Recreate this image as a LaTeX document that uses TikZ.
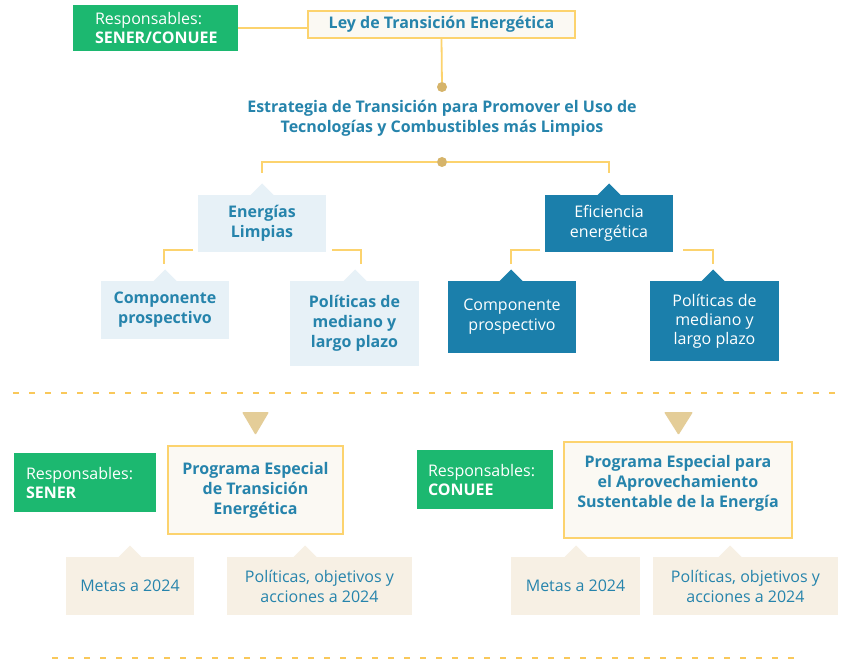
\documentclass[tikz,border=0pt]{standalone}
\usepackage{fontspec}
\setmainfont{Open Sans}
\usetikzlibrary{calc}
\definecolor{grn}{RGB}{28,184,112}
\definecolor{tblue}{RGB}{38,132,172}
\definecolor{dblue}{RGB}{27,127,171}
\definecolor{lblue}{RGB}{231,241,247}
\definecolor{gold}{RGB}{252,211,110}
\definecolor{dotc}{RGB}{214,180,106}
\definecolor{cream}{RGB}{251,249,243}
\definecolor{beige}{RGB}{247,240,228}
\definecolor{tric}{RGB}{228,205,152}
\definecolor{dashc}{RGB}{249,200,90}
\tikzset{
  bx/.style={inner sep=0pt, outer sep=0pt, align=center, text=tblue},
  greenbox/.style={bx, fill=grn, text=white, align=left},
  lawbox/.style={bx, fill=cream, draw=gold, line width=1.5pt, font=\fontsize{16}{20}\selectfont\bfseries},
  lightbox/.style={bx, fill=lblue, font=\fontsize{16}{20}\selectfont\bfseries},
  darkbox/.style={bx, fill=dblue, text=white},
  beigebox/.style={bx, fill=beige},
  conn/.style={draw=gold, line width=1.8pt},
  dotn/.style={circle, fill=dotc, minimum size=10pt, inner sep=0pt},
  dashln/.style={draw=dashc, line width=1.6pt, dash pattern=on 6pt off 10pt},
}
\newcommand{\tipat}[3]{\fill[#1] ($(#2.north)+(#3-11.5,0)$) -- ($(#2.north)+(#3,-11.5)$) -- ($(#2.north)+(#3+11.5,0)$) -- cycle;}
\begin{document}
\begin{tikzpicture}[x=1pt,y=-1pt, font=\fontsize{16}{20}\selectfont]
\useasboundingbox[fill=white] (0,0) rectangle (846,660);

% top row
\node[greenbox, minimum width=165pt, minimum height=46pt, text width=121pt, inner xsep=22pt] (resp0) at (155.5,28)
  {Responsables:\\[-1pt]\textbf{SENER/CONUEE}};
\node[lawbox, minimum width=267pt, minimum height=27pt] (ley) at (441.5,24.5) {Ley de Transición Energética};
\draw[conn] (resp0.east) -- (resp0.east -| ley.west);

\node[dotn] (dot1) at (442,87) {};
\draw[conn] (ley.south) -- (dot1);
\node[bx, font=\fontsize{16}{20}\selectfont\bfseries] (estr) at (442,118.5)
  {Estrategia de Transición para Promover el Uso de\\Tecnologías y Combustibles más Limpios};

\node[dotn] (dot2) at (442,162) {};
\coordinate (bl) at (262,173);
\coordinate (br) at (609,173);
\draw[conn] (bl) |- (dot2) -| (br);

% level 2
\node[lightbox, minimum width=128pt, minimum height=57pt] (el) at (262,223.5) {Energías\\Limpias};
\tipat{lblue}{el}{0}
\node[darkbox, minimum width=128pt, minimum height=57pt] (ef) at (609,223.5) {Eficiencia\\energética};
\tipat{dblue}{ef}{0}

% level 3
\node[lightbox, minimum width=128pt, minimum height=58pt] (cl) at (165,310) {Componente\\prospectivo};
\tipat{lblue}{cl}{0}
\node[lightbox, minimum width=129pt, minimum height=85pt] (pl) at (354.5,323.5) {Políticas de\\mediano y\\largo plazo};
\tipat{lblue}{pl}{0.5}
\node[darkbox, minimum width=128pt, minimum height=72pt] (cr) at (512,317) {Componente\\prospectivo};
\tipat{dblue}{cr}{-1}
\node[darkbox, minimum width=129pt, minimum height=80pt] (pr) at (714.5,321) {Políticas de\\[-1pt]mediano y\\[-1pt]largo plazo};
\tipat{dblue}{pr}{-1.5}

\coordinate (elL) at (193,250); \coordinate (clT) at (164,264);
\coordinate (elR) at (332,250); \coordinate (plT) at (361,264);
\coordinate (efL) at (540,250); \coordinate (crT) at (511,264);
\coordinate (efR) at (683,250); \coordinate (prT) at (713,264);
\draw[conn] (elL) -| (clT);
\draw[conn] (elR) -| (plT);
\draw[conn] (efL) -| (crT);
\draw[conn] (efR) -| (prT);

% separator
\coordinate (s1a) at (13,393); \coordinate (s1b) at (842,393);
\draw[dashln] (s1a) -- (s1b);

% down triangles
\fill[tric, rounded corners=1pt] (242,412) -- (269,412) -- (255.5,435) -- cycle;
\fill[tric, rounded corners=1pt] (664,412) -- (693,412) -- (678.5,435) -- cycle;

% bottom left
\node[greenbox, minimum width=142pt, minimum height=59pt, text width=118pt, inner xsep=12pt] (respS) at (85,482.5)
  {Responsables:\\[-1pt]\textbf{SENER}};
\node[lawbox, minimum width=175pt, minimum height=88pt] (pete) at (255.5,490)
  {Programa Especial\\de Transición\\Energética};
\node[beigebox, minimum width=128pt, minimum height=58pt] (ml) at (130,586) {Metas a 2024};
\tipat{beige}{ml}{0}
\node[beigebox, minimum width=185pt, minimum height=58pt] (pol) at (319.5,586) {Políticas, objetivos y\\acciones a 2024};
\tipat{beige}{pol}{-14.5}

% bottom right
\node[greenbox, minimum width=136pt, minimum height=59pt, text width=114pt, inner xsep=11pt] (respC) at (485,479.5)
  {Responsables:\\[-1pt]\textbf{CONUEE}};
\node[lawbox, minimum width=228pt, minimum height=96pt] (pease) at (678,490) {};
\node[bx, font=\fontsize{16}{20}\selectfont\bfseries] (peaset) at (678,483)
  {Programa Especial para\\el Aprovechamiento\\Sustentable de la Energía};
\node[beigebox, minimum width=129pt, minimum height=58pt] (mr) at (575.5,586) {Metas a 2024};
\tipat{beige}{mr}{0.5}
\node[beigebox, minimum width=185pt, minimum height=58pt] (por) at (745.5,586) {Políticas, objetivos y\\acciones a 2024};
\tipat{beige}{por}{-15.5}

\coordinate (s2a) at (52,658); \coordinate (s2b) at (795,658);
\draw[dashln] (s2a) -- (s2b);
\end{tikzpicture}
\end{document}
